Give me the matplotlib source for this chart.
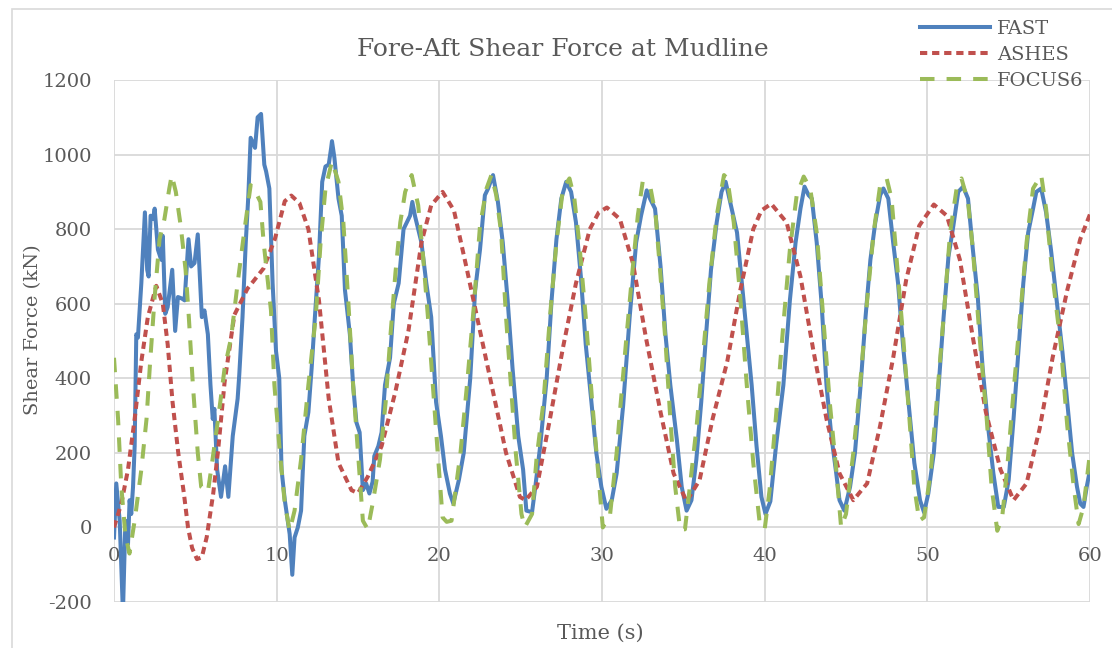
"""Fore-aft shear force at mudline: FAST vs ASHES vs FOCUS6 time series."""

import matplotlib
matplotlib.use("Agg")
import matplotlib.pyplot as plt
from matplotlib.patches import Rectangle


plt.rcParams.update({
    "font.family": ["DejaVu Serif"],
    "axes.unicode_minus": False,
    "text.color": "#595959",
    "axes.labelcolor": "#595959",
    "xtick.color": "#595959",
    "ytick.color": "#595959",
})

# (time s, force kN) samples per code
FAST = [
    (0.0, -27), (0.14, 118), (0.35, 18), (0.55, -230), (0.7, 18), (0.86, -45),
    (0.96, 73), (1.06, 36), (1.17, 109), (1.27, 218), (1.37, 518), (1.47, 509),
    (1.68, 655), (1.9, 845), (2.04, 691), (2.13, 673), (2.25, 836), (2.4, 827),
    (2.5, 855), (2.7, 745), (2.9, 718), (3.0, 782), (3.15, 573), (3.3, 591),
    (3.58, 691), (3.76, 527), (3.93, 618), (4.17, 614), (4.34, 609), (4.58, 773),
    (4.74, 700), (4.95, 709), (5.15, 786), (5.4, 564), (5.56, 582), (5.77, 518),
    (5.93, 382), (6.07, 291), (6.17, 318), (6.34, 155), (6.58, 82), (6.83, 164),
    (7.03, 82), (7.3, 245), (7.6, 345), (7.7, 409), (7.9, 564), (8.1, 764),
    (8.26, 891), (8.4, 1045), (8.67, 1018), (8.83, 1100), (9.04, 1109),
    (9.24, 973), (9.35, 955), (9.55, 909), (9.75, 655), (9.96, 473), (10.16, 400),
    (10.3, 155), (10.5, 73), (10.8, -18), (10.96, -127), (11.1, -27), (11.3, 0),
    (11.5, 45), (11.7, 245), (11.95, 309), (12.15, 427), (12.35, 564), (12.6, 727),
    (12.8, 927), (13.0, 968), (13.2, 973), (13.35, 1018), (13.4, 1036),
    (13.55, 991), (13.8, 882), (14.0, 836), (14.2, 636), (14.5, 518), (14.7, 382),
    (14.9, 282), (15.1, 255), (15.3, 100), (15.5, 118), (15.7, 91), (15.9, 123),
    (16.0, 191), (16.25, 218), (16.45, 255), (16.66, 382), (16.97, 455),
    (17.2, 600), (17.5, 655), (17.8, 800), (18.0, 818), (18.2, 836), (18.34, 873),
    (18.5, 836), (18.7, 800), (18.9, 764), (19.2, 655), (19.5, 564), (19.8, 336),
    (20.1, 245), (20.35, 155), (20.65, 91), (20.86, 64), (21.2, 127), (21.5, 200),
    (21.9, 400), (22.2, 636), (22.5, 745), (22.8, 891), (23.0, 909), (23.3, 945),
    (23.6, 873), (23.9, 764), (24.2, 609), (24.5, 427), (24.85, 245), (25.15, 155),
    (25.35, 45), (25.7, 41), (25.9, 109), (26.2, 218), (26.6, 400), (26.9, 609),
    (27.2, 773), (27.5, 882), (27.8, 927), (28.1, 900), (28.4, 818), (28.7, 673),
    (29.0, 491), (29.35, 336), (29.65, 200), (29.96, 109), (30.27, 50), (30.6, 73),
    (30.9, 145), (31.3, 327), (31.7, 564), (32.1, 764), (32.4, 836), (32.75, 904),
    (32.95, 882), (33.26, 855), (33.6, 700), (33.9, 518), (34.2, 382), (34.6, 236),
    (34.9, 109), (35.2, 45), (35.5, 73), (35.8, 182), (36.1, 336), (36.4, 518),
    (36.7, 691), (37.05, 818), (37.35, 900), (37.6, 927), (37.97, 855),
    (38.3, 791), (38.6, 655), (38.9, 518), (39.2, 382), (39.5, 218), (39.8, 82),
    (40.05, 36), (40.35, 70), (40.7, 220), (41.15, 382), (41.55, 609), (41.9, 764),
    (42.2, 855), (42.45, 914), (42.7, 891), (42.9, 882), (43.2, 764), (43.5, 600),
    (43.8, 382), (44.1, 245), (44.4, 145), (44.6, 73), (44.9, 45), (45.25, 109),
    (45.55, 200), (45.9, 382), (46.2, 564), (46.5, 718), (46.8, 818), (47.1, 891),
    (47.3, 909), (47.6, 882), (47.9, 764), (48.2, 655), (48.5, 491), (48.9, 309),
    (49.2, 173), (49.55, 73), (49.8, 40), (50.06, 91), (50.4, 200), (50.7, 382),
    (51.0, 564), (51.3, 727), (51.6, 809), (51.9, 900), (52.2, 914), (52.5, 882),
    (52.8, 745), (53.1, 618), (53.4, 427), (53.75, 264), (54.06, 145),
    (54.36, 55), (54.7, 55), (55.0, 127), (55.3, 291), (55.6, 473), (55.9, 655),
    (56.2, 791), (56.5, 855), (56.7, 900), (57.0, 909), (57.3, 845), (57.6, 745),
    (57.95, 609), (58.3, 473), (58.6, 336), (58.9, 200), (59.2, 109), (59.4, 64),
    (59.6, 55), (59.8, 109), (60.0, 155),
]

ASHES = [
    (0.0, 0), (0.45, 64), (0.86, 155), (1.27, 291), (1.68, 445), (2.08, 564),
    (2.6, 648), (3.0, 600), (3.3, 491), (3.6, 336), (3.95, 200), (4.3, 90),
    (4.55, 0), (4.8, -55), (5.1, -85), (5.4, -80), (5.7, -26), (6.1, 91),
    (6.4, 207), (6.8, 390), (7.4, 570), (8.2, 640), (9.2, 695), (9.9, 775),
    (10.5, 875), (10.9, 890), (11.4, 870), (11.95, 800), (12.6, 609), (13.2, 345),
    (13.8, 173), (14.6, 100), (15.0, 92), (15.6, 136), (16.45, 218), (17.3, 364),
    (18.1, 527), (18.9, 764), (19.5, 864), (20.2, 900), (20.9, 850), (21.7, 691),
    (22.5, 527), (23.3, 364), (24.1, 200), (24.95, 82), (25.3, 73), (26.0, 109),
    (26.8, 291), (27.6, 482), (28.4, 655), (29.25, 800), (29.8, 845), (30.3, 858),
    (31.1, 827), (31.9, 709), (32.7, 509), (33.6, 309), (34.4, 145), (35.2, 70),
    (36.0, 127), (36.8, 291), (37.7, 445), (38.5, 636), (39.3, 800), (39.8, 850),
    (40.4, 868), (41.35, 818), (42.2, 673), (43.0, 473), (43.8, 291), (44.6, 145),
    (45.45, 73), (46.3, 118), (47.1, 273), (47.9, 455), (48.7, 664), (49.5, 809),
    (50.4, 866), (51.2, 836), (52.0, 718), (52.8, 509), (53.6, 309), (54.5, 155),
    (55.3, 73), (56.1, 118), (56.9, 264), (57.7, 455), (58.6, 636), (59.4, 773),
    (60.0, 840),
]

FOCUS6 = [
    (0.0, 455), (0.25, 291), (0.45, 109), (0.7, -20), (0.95, -70), (1.27, 18),
    (1.68, 155), (2.0, 291), (2.2, 430), (2.5, 618), (2.8, 773), (3.1, 827),
    (3.4, 909), (3.55, 945), (3.8, 900), (4.1, 809), (4.4, 691), (4.6, 564),
    (4.85, 382), (5.15, 200), (5.36, 109), (5.77, 95), (5.97, 155), (6.4, 291),
    (6.8, 427), (7.2, 509), (7.6, 655), (8.0, 791), (8.4, 918), (8.7, 900),
    (9.0, 873), (9.2, 764), (9.65, 582), (9.86, 382), (10.2, 200), (10.5, 64),
    (10.8, -9), (11.1, 45), (11.5, 182), (11.95, 382), (12.4, 564), (12.7, 764),
    (13.0, 909), (13.4, 982), (13.8, 927), (14.1, 818), (14.4, 609), (14.7, 382),
    (15.0, 200), (15.3, 18), (15.6, -5), (15.9, 64), (16.35, 182), (16.7, 336),
    (17.0, 518), (17.3, 682), (17.6, 818), (17.9, 900), (18.3, 945), (18.7, 864),
    (19.0, 727), (19.3, 564), (19.6, 382), (19.9, 200), (20.2, 27), (20.45, 15),
    (20.75, 18), (21.3, 200), (21.7, 382), (22.1, 582), (22.5, 809), (22.9, 909),
    (23.2, 945), (23.5, 891), (23.8, 791), (24.1, 564), (24.4, 382), (24.7, 200),
    (25.05, 36), (25.25, 0), (25.7, 36), (25.97, 182), (26.4, 336), (26.8, 564),
    (27.2, 764), (27.6, 909), (28.0, 936), (28.3, 882), (28.6, 764), (29.0, 564),
    (29.4, 336), (29.75, 155), (30.05, 0), (30.5, 36), (30.9, 200), (31.1, 309),
    (31.5, 509), (31.9, 700), (32.2, 836), (32.5, 927), (32.95, 918), (33.3, 836),
    (33.6, 673), (33.9, 500), (34.2, 291), (34.5, 109), (34.8, -5), (35.1, -5),
    (35.4, 109), (35.8, 264), (36.2, 455), (36.6, 655), (37.05, 836), (37.5, 945),
    (37.7, 936), (38.1, 818), (38.5, 618), (38.9, 382), (39.3, 173), (39.7, 9),
    (40.0, -5), (40.3, 100), (40.7, 300), (41.15, 545), (41.55, 745), (41.97, 891),
    (42.4, 941), (42.8, 909), (43.2, 791), (43.6, 564), (44.0, 336), (44.4, 155),
    (44.7, 0), (45.0, 36), (45.45, 200), (45.9, 400), (46.3, 609), (46.7, 791),
    (47.1, 918), (47.5, 936), (47.8, 882), (48.1, 727), (48.5, 518), (48.9, 291),
    (49.2, 109), (49.5, 18), (49.8, 27), (50.2, 145), (50.6, 350), (51.0, 564),
    (51.4, 791), (51.8, 909), (52.1, 936), (52.5, 873), (52.8, 745), (53.2, 518),
    (53.65, 291), (53.95, 109), (54.3, -9), (54.6, 27), (54.9, 155), (55.3, 364),
    (55.7, 564), (56.1, 764), (56.5, 909), (57.0, 945), (57.3, 855), (57.7, 673),
    (58.2, 491), (58.6, 273), (59.0, 109), (59.3, 9), (59.6, 55), (60.0, 200),
]

X_TICKS = [0, 10, 20, 30, 40, 50, 60]
Y_TICKS = [-200, 0, 200, 400, 600, 800, 1000, 1200]

GRID = "#D9D9D9"
W, H = 1112, 648


def main() -> None:
    fig = plt.figure(figsize=(W / 100, H / 100), dpi=100)
    ax = fig.add_axes([114 / W, 1 - 602 / H, (1090 - 114) / W, (602 - 80) / H])

    # chart frame
    fig.patches.append(Rectangle((12 / W, -0.1), 1.2, 1.1 - 9 / H,
                                 transform=fig.transFigure, fill=False,
                                 edgecolor=GRID, linewidth=1.2))

    for t_v, label, style in [
        (FAST, "FAST", dict(color="#4F81BD", linestyle="-")),
        (ASHES, "ASHES", dict(color="#C0504D", dashes=(1.8, 1.2))),
        (FOCUS6, "FOCUS6", dict(color="#9BBB59", dashes=(3.6, 3.0))),
    ]:
        t, v = zip(*t_v)
        ax.plot(t, v, linewidth=2.9, label=label, solid_joinstyle="round", **style)

    ax.set_xlim(0, 60)
    ax.set_ylim(-200, 1200)
    ax.set_xticks(X_TICKS)
    ax.set_yticks(Y_TICKS)
    ax.grid(True, color=GRID, linewidth=1.3)
    ax.set_axisbelow(True)
    for side in ax.spines.values():
        side.set_visible(False)
    # x labels hang just under the zero line, as the category axis crosses at 0
    ax.spines["bottom"].set_position(("data", 0))
    ax.tick_params(axis="both", length=0, labelsize=14)
    ax.tick_params(axis="x", pad=14)
    ax.tick_params(axis="y", pad=16)

    fig.text(563 / W, 1 - 50 / H, "Fore-Aft Shear Force at Mudline",
             ha="center", va="center", fontsize=18)
    fig.text(600 / W, 1 - 633 / H, "Time (s)", ha="center", va="center", fontsize=15)
    fig.text(33 / W, 1 - 330 / H, "Shear Force (kN)", ha="center", va="center",
             rotation=90, fontsize=14)

    fig.legend(loc="upper left", bbox_to_anchor=(920 / W, 1 - 20 / H),
               frameon=False, fontsize=14, handlelength=3.6, handletextpad=0.35,
               labelspacing=0.40, borderpad=0, borderaxespad=0)

    fig.savefig("out.png", dpi=100)


if __name__ == "__main__":
    main()
